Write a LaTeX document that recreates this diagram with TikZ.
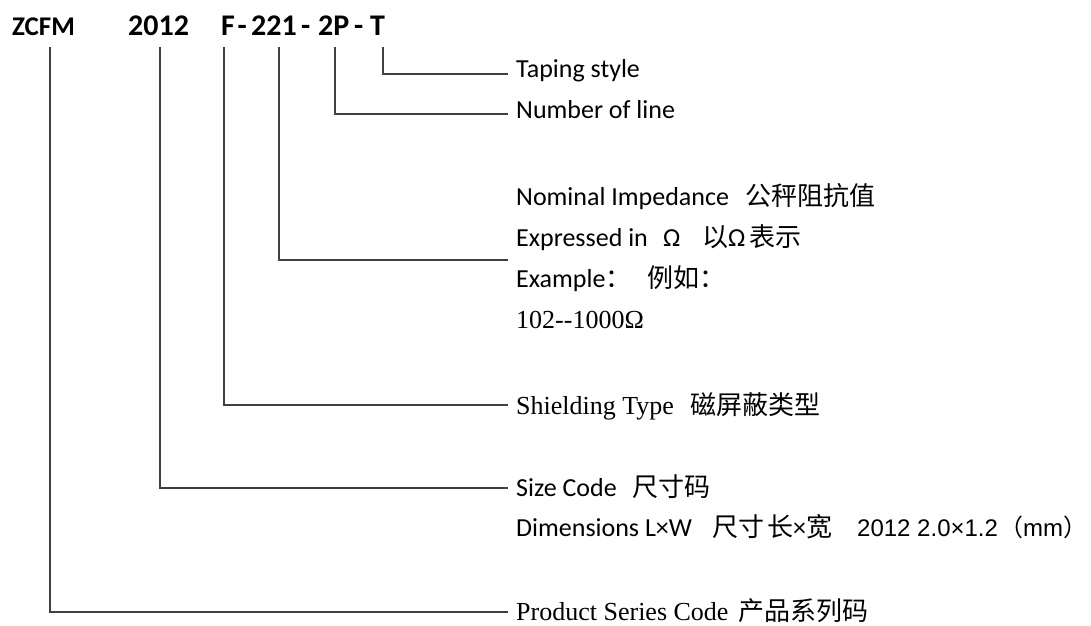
\documentclass[tikz,border=0pt]{standalone}
\usepackage{fontspec}
\setmainfont{Carlito}
\newfontfamily\tms{Liberation Serif}
\newfontfamily\ari{Liberation Sans}
\newfontfamily\cjk{Noto Sans CJK SC}
\begin{document}
\begin{tikzpicture}[x=1pt,y=-1pt,
  code/.style={anchor=base west,inner sep=0pt,text depth=12pt,font=\fontsize{30}{32}\selectfont\bfseries},
  lbl/.style={anchor=base west,inner sep=0pt,font=\fontsize{26}{30}\selectfont},
  conn/.style={draw=black!75,line width=1.3pt}]
\useasboundingbox[fill=white] (0,0) rectangle (1091,625);
% code parts
\node[code,font=\fontsize{27}{30}\selectfont\bfseries] (zcfm) at (12,35) {ZCFM};
\node[code] (s2012) at (128,35) {2012};
\node[code] (cF) at (221,35) {F};
\node[code] (d1) at (237.5,35) {-};
\node[code] (c221) at (251,35) {221};
\node[code] (d2) at (301,35) {-};
\node[code] (c2P) at (318,35) {2P};
\node[code] (d3) at (354,35) {-};
\node[code] (cT) at (370,35) {T};
% labels
\node[lbl] (tap) at (516,77) {Taping style};
\node[lbl] (num) at (516,118) {Number of line};
\node[lbl] (nom) at (516,205) {Nominal Impedance};
\node[lbl] (nomc) at (745,205) {\cjk 公秤阻抗值};
\node[lbl] (exp) at (516,246) {Expressed in};
\node[lbl] (expo) at (663,246) {Ω};
\node[lbl] (expc) at (702,246) {{\cjk 以}Ω\,{\cjk 表示}};
\node[lbl] (exa) at (516,287) {Example{\cjk ：}};
\node[lbl] (exac) at (647,287) {\cjk 例如：};
\node[lbl] (rng) at (516,328) {\tms 102--1000Ω};
\node[lbl] (shd) at (516,414) {\tms Shielding Type};
\node[lbl] (shdc) at (690,414) {\cjk 磁屏蔽类型};
\node[lbl] (siz) at (516,496) {Size Code};
\node[lbl] (sizc) at (632,496) {\cjk 尺寸码};
\node[lbl] (dim) at (516,536) {Dimensions L×W};
\node[lbl] (dimc) at (712,536) {\cjk 尺寸};
\node[lbl] (dimd) at (767,536) {{\cjk 长}×{\cjk 宽}};
\node[lbl,font=\fontsize{24}{30}\selectfont] (dime) at (857,536) {\ari 2012 2.0×1.2};
\node[lbl,font=\fontsize{24}{30}\selectfont] (dimf) at (999,536) {{\cjk （}{\ari mm}{\cjk ）}};
\node[lbl] (prd) at (516,620) {\tms Product Series Code};
\node[lbl] (prdc) at (738,620) {\cjk 产品系列码};
% connector ends
\coordinate (eT) at (508,74);
\coordinate (eN) at (508,114);
\coordinate (eI) at (508,260);
\coordinate (eS) at (508,405);
\coordinate (eC) at (508,488);
\coordinate (eP) at (508,612);
\draw[conn] ([xshift=13pt]cT.south west) |- (eT);
\draw[conn] ([xshift=17pt]c2P.south west) |- (eN);
\draw[conn] ([xshift=28pt]c221.south west) |- (eI);
\draw[conn] ([xshift=3pt]cF.south west) |- (eS);
\draw[conn] ([xshift=32pt]s2012.south west) |- (eC);
\draw[conn] ([xshift=38pt]zcfm.south west) |- (eP);
\end{tikzpicture}
\end{document}
